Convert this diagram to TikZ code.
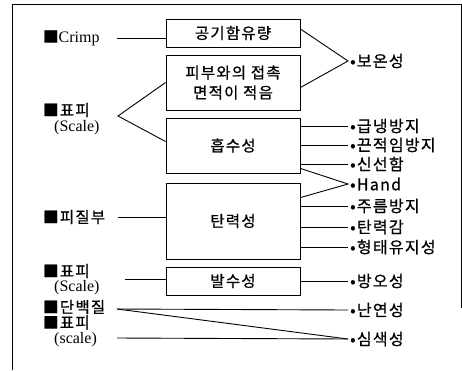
\documentclass[tikz,border=0pt]{standalone}
\usepackage{fontspec}
\setmainfont{Liberation Serif}
\newfontfamily\kr{Noto Sans CJK KR}[LetterSpace=8,FakeBold=0.8]
\usetikzlibrary{calc}
\tikzset{
  x=1pt, y=-1pt,
  conn/.style={line width=0.9pt},
  box/.style={draw, line width=0.9pt, inner sep=0pt, minimum width=134pt, align=center,
              font=\kr\fontsize{15.5}{20}\selectfont},
  llab/.style={anchor=west, inner sep=0pt, font=\fontsize{16}{18}\selectfont},
  rlab/.style={anchor=west, inner xsep=2pt, inner ysep=0pt, font=\kr\fontsize{16}{17}\selectfont},
}
\newcommand{\sq}{{\kr\fontsize{15.5}{17}\selectfont■}}
\newcommand{\klab}[1]{{\kr\fontsize{15.5}{17}\selectfont #1}}
\begin{document}
\begin{tikzpicture}
\useasboundingbox (0,0) rectangle (462,370);
% frame
\draw[line width=0.9pt] (12,370) -- (12,4) -- (461,4) -- (461,308);

% boxes
\node[box, minimum height=28pt] (b1) at (233,33) {공기함유량};
\node[box, minimum height=55pt] (b2) at (233,82.5) {피부와의 접촉\\면적이 적음};
\node[box, minimum height=55pt] (b3) at (233,145.5) {흡수성};
\node[box, minimum height=76pt] (b4) at (233,221) {탄력성};
\node[box, minimum height=28pt] (b5) at (233,281) {발수성};

% left labels
\node[llab] (l1) at (43,38) {\sq Crimp};
\node[llab] (l2) at (43,110) {\sq\klab{표피}};
\node[llab] (l2b) at (54,128) {(Scale)};
\node[llab] (l3) at (43,217) {\sq\klab{피질부}};
\node[llab] (l4) at (43,271) {\sq\klab{표피}};
\node[llab] (l4b) at (54,288) {(Scale)};
\node[llab] (l5) at (43,307) {\sq\klab{단백질}};
\node[llab] (l6) at (43,322.5) {\sq\klab{표피}};
\node[llab] (l6b) at (54,339.5) {(scale)};

% right labels
\node[rlab] (r1) at (348,61) {•보온성};
\node[rlab] (r2) at (348,126) {•급냉방지};
\node[rlab] (r3) at (348,145) {•끈적임방지};
\node[rlab] (r4) at (348,164) {•신선함};
\node[rlab] (r5) at (348,184) {•Hand};
\node[rlab] (r6) at (348,206) {•주름방지};
\node[rlab] (r7) at (348,227) {•탄력감};
\node[rlab] (r8) at (348,247) {•형태유지성};
\node[rlab] (r9) at (348,281) {•방오성};
\node[rlab] (r10) at (348,310) {•난연성};
\node[rlab] (r11) at (348,339) {•심색성};

% left connector start points
\coordinate (c1) at (117,38);
\coordinate (c2) at (118,116);
\coordinate (c3) at (118,217);
\coordinate (c4) at (125,279);
\coordinate (c5) at (117,309);
\coordinate (c6) at (117,338);

% left connectors
\draw[conn] (c1) -- (c1 -| b1.west);
\draw[conn] (b2.west) -- (c2) -- ($(b3.west)+(0,-4)$);
\draw[conn] (c3) -- (c3 -| b4.west);
\draw[conn] (c4) -- (c4 -| b5.west);
\draw[conn] (c5) -- (r10.west);
\draw[conn] (c5) -- (r11.west);
\draw[conn] (c6) -- (r11.west);

% right connectors
\draw[conn] ($(b1.east)+(0,-4)$) -- (r1.west) -- ($(b2.east)+(0,5)$);
\draw[conn] (r2.west -| b3.east) -- (r2.west);
\draw[conn] (r3.west -| b3.east) -- (r3.west);
\draw[conn] (r4.west -| b3.east) -- (r4.west);
\draw[conn] ($(b3.south east)+(0,-5)$) -- (r5.west) -- ($(b4.north east)+(0,15)$);
\draw[conn] (r6.west -| b4.east) -- (r6.west);
\draw[conn] (r7.west -| b4.east) -- (r7.west);
\draw[conn] (r8.west -| b4.east) -- (r8.west);
\draw[conn] (r9.west -| b5.east) -- (r9.west);
\end{tikzpicture}
\end{document}
